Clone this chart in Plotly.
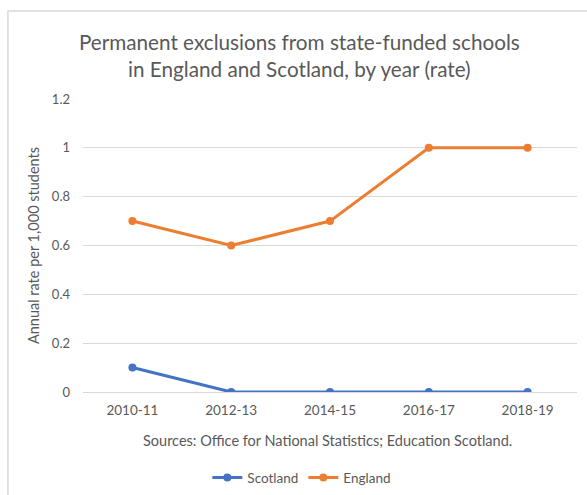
import plotly.graph_objects as go

years = ["2010-11", "2012-13", "2014-15", "2016-17", "2018-19"]
scotland = [0.1, 0, 0, 0, 0]
england = [0.7, 0.6, 0.7, 1, 1]
y_ticks = [0, 0.2, 0.4, 0.6, 0.8, 1, 1.2]
y_tick_labels = ["0", "0.2", "0.4", "0.6", "0.8", "1", "1.2"]

FONT = "Lato"
GRAY = "#595959"

fig = go.Figure()
fig.add_trace(go.Scatter(x=years, y=scotland, name="Scotland", mode="lines+markers",
                         line=dict(color="#4472C4", width=3), marker=dict(size=8, color="#4472C4")))
fig.add_trace(go.Scatter(x=years, y=england, name="England", mode="lines+markers",
                         line=dict(color="#ED7D31", width=3), marker=dict(size=8, color="#ED7D31")))

fig.update_layout(
    width=587, height=495,
    margin=dict(l=83, r=10, t=99, b=103, autoexpand=False),
    paper_bgcolor="white", plot_bgcolor="white",
    font=dict(family=FONT, color=GRAY, size=13),
    title=dict(text="Permanent exclusions from state-funded schools<br>in England and Scotland, by year (rate)",
               x=0.51, xanchor="center", y=0.898, yanchor="middle",
               font=dict(family=FONT, size=20.7, color=GRAY)),
    showlegend=True,
    legend=dict(orientation="h", x=0.443, xanchor="center", y=-0.293, yanchor="middle",
                font=dict(size=13.5, color=GRAY), itemwidth=30, tracegroupgap=0),
    xaxis=dict(type="category", range=[-0.5, 4.5], showgrid=False, showline=False,
               ticks="", tickfont=dict(size=13.5, color=GRAY), ticklabelstandoff=8),
    yaxis=dict(range=[0, 1.2], tickvals=y_ticks, ticktext=y_tick_labels,
               showgrid=True, gridcolor="#D9D9D9", gridwidth=1, zeroline=True,
               zerolinecolor="#D9D9D9", zerolinewidth=1, showline=False, ticks="",
               tickfont=dict(size=13, color=GRAY), ticklabelstandoff=12,
               title=dict(text="Annual rate per 1,000 students", font=dict(size=14.5, color=GRAY), standoff=8)),
    annotations=[dict(text="Sources: Office for National Statistics; Education Scotland.",
                      xref="paper", yref="paper", x=0.494, y=-0.167, xanchor="center", yanchor="middle",
                      showarrow=False, font=dict(size=14.5, color=GRAY))],
    shapes=[dict(type="rect", xref="paper", yref="paper", x0=-0.152, x1=1.05, y0=-0.4, y1=1.3,
                 line=dict(color="#D9D9D9", width=1.5), fillcolor="rgba(0,0,0,0)", layer="below")],
)

fig.write_html("out.html")
